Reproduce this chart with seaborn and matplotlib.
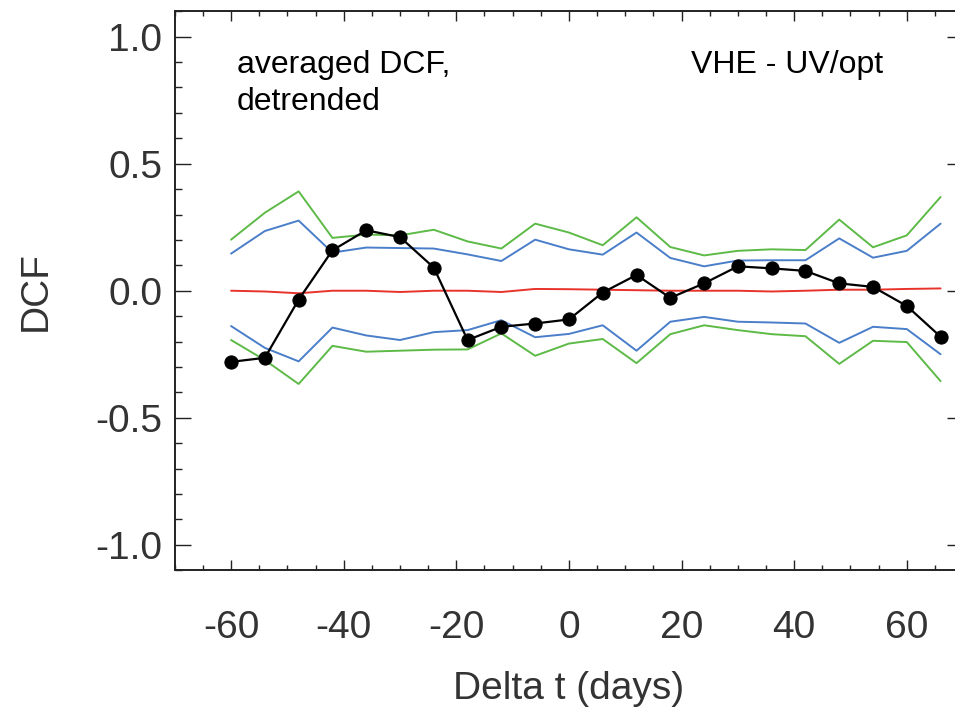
import numpy as np
import pandas as pd
import matplotlib
matplotlib.use("Agg")
import matplotlib.pyplot as plt
import seaborn as sns
from matplotlib.ticker import MultipleLocator, FixedLocator

# ---- data ----
lags = [-60, -54, -48, -42, -36, -30, -24, -18, -12, -6, 0,
        6, 12, 18, 24, 30, 36, 42, 48, 54, 60, 66]

dcf = [-0.280, -0.264, -0.035, 0.159, 0.238, 0.211, 0.091, -0.194, -0.142, -0.129, -0.113,
       -0.007, 0.062, -0.028, 0.029, 0.096, 0.088, 0.078, 0.029, 0.015, -0.060, -0.181]

green_upper = [0.201, 0.307, 0.391, 0.208, 0.221, 0.218, 0.240, 0.194, 0.166, 0.264, 0.229,
               0.179, 0.289, 0.172, 0.139, 0.157, 0.163, 0.160, 0.280, 0.171, 0.218, 0.369]
blue_upper = [0.146, 0.235, 0.276, 0.150, 0.170, 0.168, 0.166, 0.143, 0.117, 0.201, 0.163,
              0.142, 0.229, 0.129, 0.096, 0.119, 0.120, 0.120, 0.206, 0.130, 0.157, 0.264]
red_mean = [0.000, -0.003, -0.010, 0.000, 0.000, -0.005, 0.000, 0.000, -0.005, 0.007, 0.006,
            0.004, 0.002, 0.000, 0.000, 0.000, -0.003, 0.000, 0.004, 0.004, 0.007, 0.009]
blue_lower = [-0.139, -0.225, -0.278, -0.145, -0.176, -0.194, -0.163, -0.155, -0.116, -0.183, -0.170,
              -0.136, -0.236, -0.122, -0.103, -0.122, -0.125, -0.129, -0.205, -0.142, -0.151, -0.250]
green_lower = [-0.194, -0.273, -0.367, -0.217, -0.240, -0.236, -0.232, -0.231, -0.168, -0.256, -0.208,
               -0.190, -0.285, -0.171, -0.136, -0.155, -0.171, -0.179, -0.288, -0.197, -0.202, -0.356]

xticks = [-60, -40, -20, 0, 20, 40, 60]
yticks = [-1.0, -0.5, 0.0, 0.5, 1.0]
ytick_labels = ["-1.0", "-0.5", "0.0", "0.5", "1.0"]

# ---- style ----
sns.set_style("white")
plt.rcParams['font.family'] = ['Liberation Sans', 'DejaVu Sans']
plt.rcParams['axes.unicode_minus'] = False

fig = plt.figure(figsize=(9.55, 7.11), dpi=100)
ax = fig.add_axes([0.183, 0.198, 0.8255, 0.7862])

GREEN = '#5dba47'
BLUE = '#4a7ec9'
RED = '#e8332b'

sns.lineplot(x=lags, y=green_upper, color=GREEN, lw=1.4, ax=ax)
sns.lineplot(x=lags, y=green_lower, color=GREEN, lw=1.4, ax=ax)
sns.lineplot(x=lags, y=blue_upper, color=BLUE, lw=1.4, ax=ax)
sns.lineplot(x=lags, y=blue_lower, color=BLUE, lw=1.4, ax=ax)
sns.lineplot(x=lags, y=red_mean, color=RED, lw=1.4, ax=ax)
sns.lineplot(x=lags, y=dcf, color='black', lw=1.6, marker='o', markersize=9.5,
             markeredgecolor='black', markerfacecolor='black', ax=ax)

ax.set_xlim(-70, 70)
ax.set_ylim(-1.1, 1.1)

ax.xaxis.set_major_locator(FixedLocator(xticks))
ax.xaxis.set_minor_locator(MultipleLocator(5))
ax.yaxis.set_major_locator(FixedLocator(yticks))
ax.yaxis.set_minor_locator(MultipleLocator(0.1))
ax.set_yticklabels(ytick_labels)
ax.set_xticklabels([str(t) for t in xticks])

ax.tick_params(axis='both', which='both', direction='in', top=True, right=True,
               bottom=True, left=True, colors='#222222', width=1.0)
ax.tick_params(axis='x', which='major', length=7.4, pad=29, labelsize=28)
ax.tick_params(axis='x', which='minor', length=3.6)
ax.tick_params(axis='y', which='major', length=11.7, pad=9, labelsize=28)
ax.tick_params(axis='y', which='minor', length=5.0)
for lab in ax.get_xticklabels() + ax.get_yticklabels():
    lab.set_color('#333333')

for s in ax.spines.values():
    s.set_linewidth(1.4)
    s.set_color('#222222')

ax.set_xlabel("Delta t (days)", fontsize=28, color='#333333', labelpad=18)
ax.set_ylabel("DCF", fontsize=28, color='#333333', labelpad=30)

ax.text(0.0787, 0.930, "averaged DCF,\ndetrended", transform=ax.transAxes,
        fontsize=23, va='top', ha='left', color='black', linespacing=1.3)
ax.text(0.655, 0.930, "VHE - UV/opt", transform=ax.transAxes,
        fontsize=23, va='top', ha='left', color='black')

fig.savefig("out.png", dpi=100)
